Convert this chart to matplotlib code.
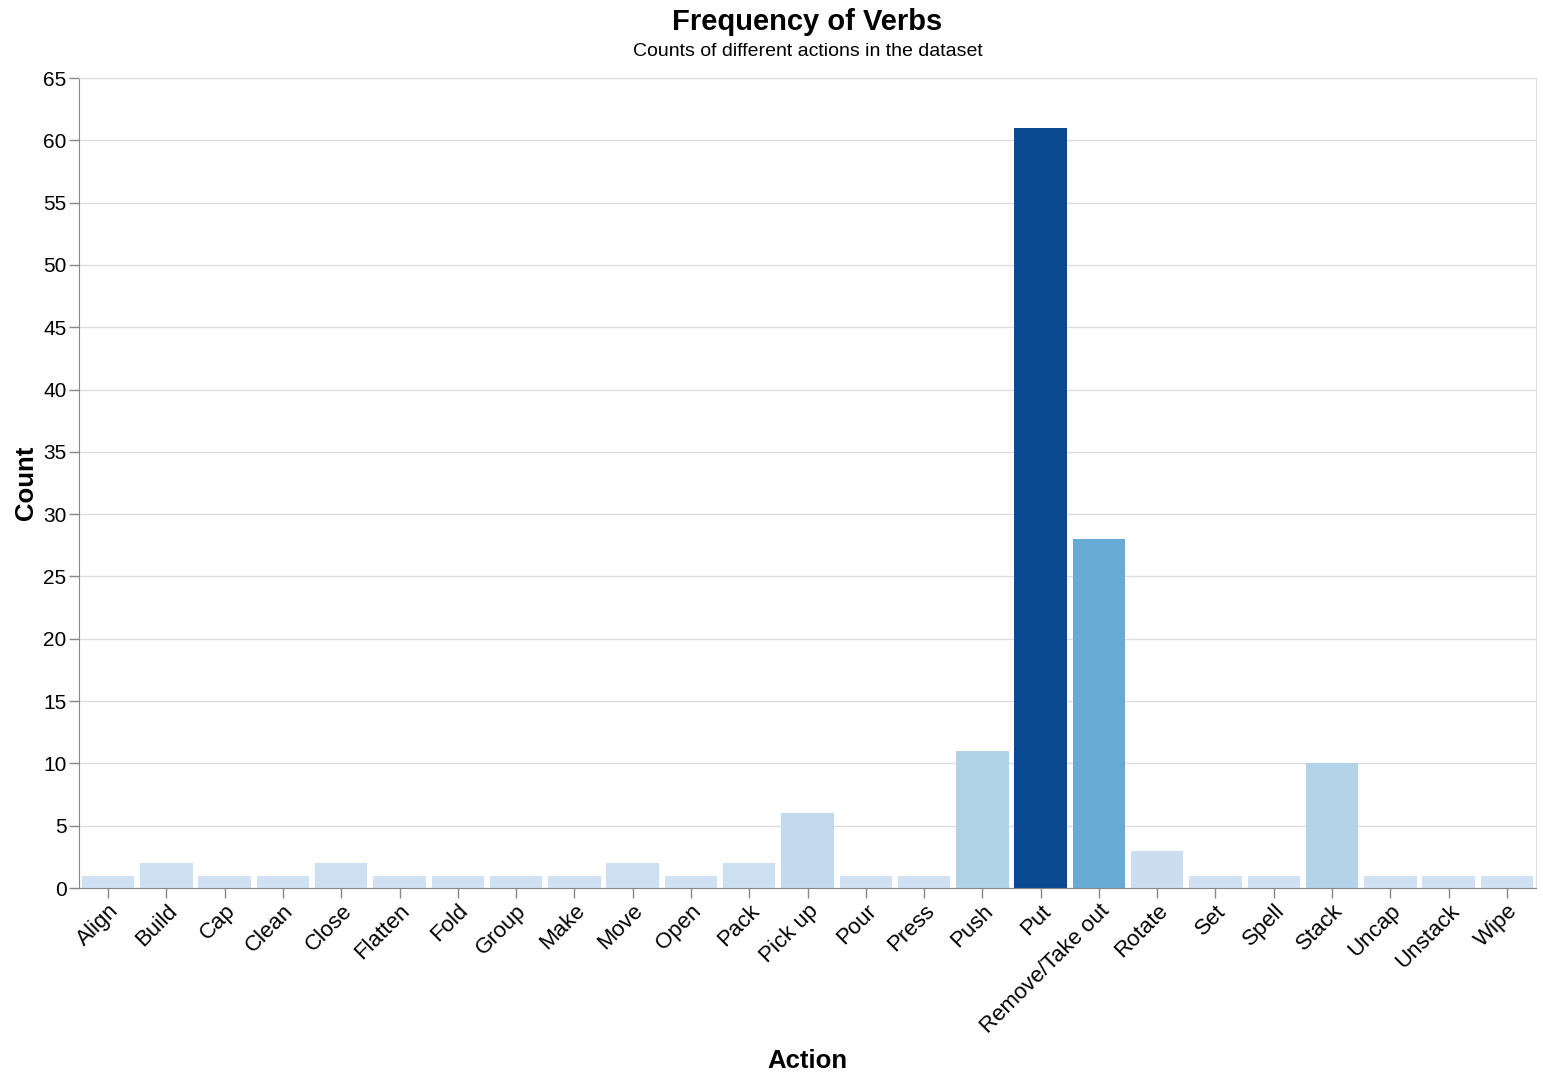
import matplotlib
matplotlib.use('Agg')
from matplotlib import pyplot as plt
from matplotlib.colors import LinearSegmentedColormap, Normalize

actions = ['Align', 'Build', 'Cap', 'Clean', 'Close', 'Flatten', 'Fold', 'Group',
           'Make', 'Move', 'Open', 'Pack', 'Pick up', 'Pour', 'Press', 'Push', 'Put',
           'Remove/Take out', 'Rotate', 'Set', 'Spell', 'Stack', 'Uncap', 'Unstack', 'Wipe']
counts = [1, 2, 1, 1, 2, 1, 1, 1, 1, 2, 1, 2, 6, 1, 1, 11, 61, 28, 3, 1, 1, 10, 1, 1, 1]

# vega "blues" scheme
blues = ['#cfe1f2', '#bed8ec', '#a8cee5', '#8fc1de', '#74b2d7', '#5ba3cf',
         '#4592c6', '#3181bd', '#206fb2', '#125ca4', '#0a4a90']
cmap = LinearSegmentedColormap.from_list('vblues', blues)
norm = Normalize(vmin=min(counts), vmax=max(counts))

plt.rcParams['font.family'] = ['Liberation Sans', 'DejaVu Sans']

fig = plt.figure(figsize=(15.43, 10.8), dpi=100)
left, right = 79 / 1543, 1536 / 1543
ax = fig.add_axes([left, 1 - 888 / 1080, right - left, (888 - 78) / 1080])

x = list(range(len(actions)))
ax.bar(x, counts, width=0.9, color=[cmap(norm(c)) for c in counts], zorder=2)

ax.set_xlim(-0.5, len(actions) - 0.5)
ax.set_ylim(0, 65)
ax.set_yticks(range(0, 66, 5))
ax.set_xticks(x)
ax.set_xticklabels(actions, rotation=45, ha='right', rotation_mode='anchor')

ax.grid(axis='y', color='#dddddd', linewidth=1, zorder=0)
for s in ['top', 'right']:
    ax.spines[s].set_color('#dddddd')
for s in ['left', 'bottom']:
    ax.spines[s].set_color('#888888')
ax.tick_params(axis='both', colors='#888888', labelcolor='black', length=7, width=1, pad=2)
ax.tick_params(axis='y', labelsize=15)
ax.tick_params(axis='x', labelsize=16)

ax.set_xlabel('Action', fontsize=18.5, fontweight='bold', labelpad=8)
ax.set_ylabel('Count', fontsize=18.5, fontweight='bold', labelpad=4)

cx = (left + right) / 2
fig.text(cx, 1 - 22 / 1080, 'Frequency of Verbs', ha='center', va='center',
         fontsize=21, fontweight='bold')
fig.text(cx, 1 - 51 / 1080, 'Counts of different actions in the dataset', ha='center',
         va='center', fontsize=14)

fig.savefig('out.png', dpi=100)
